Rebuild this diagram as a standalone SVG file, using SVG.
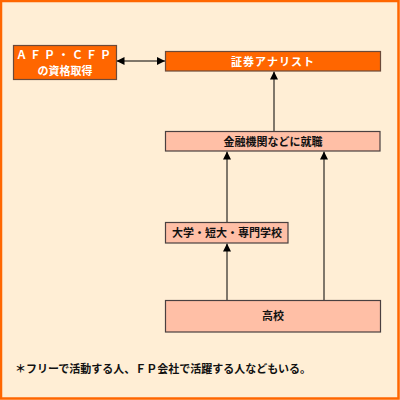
<svg xmlns="http://www.w3.org/2000/svg" width="400" height="400" viewBox="0 0 400 400">
<defs>
<marker id="ah" viewBox="0 0 10 10" refX="10" refY="5" markerWidth="8" markerHeight="8" markerUnits="userSpaceOnUse" orient="auto-start-reverse">
<path d="M0,0 L10,5 L0,10 Z" fill="#000"/>
</marker>
<style>
.dark{fill:#FF6600;stroke:#6b4a3a;stroke-width:1.2}
.light{fill:#FFBFA6;stroke:#4a4040;stroke-width:1.2}
.tw{font-family:"Noto Sans CJK JP","Noto Sans",sans-serif;font-size:11px;font-weight:bold;fill:#fff;text-anchor:middle}
.tb{font-family:"Noto Sans CJK JP","Noto Sans",sans-serif;font-size:11px;font-weight:bold;fill:#111;text-anchor:middle}
.ln{stroke:#000;stroke-width:1;fill:none}
</style>
</defs>
<rect x="0" y="0" width="400" height="400" fill="#FFEED5"/>
<rect x="1" y="1" width="397.5" height="397.5" fill="none" stroke="#FF6600" stroke-width="2.5"/>
<g id="connectors">
<line class="ln" x1="116.5" y1="61" x2="165" y2="61" marker-start="url(#ah)" marker-end="url(#ah)"/>
<line class="ln" x1="274" y1="131" x2="274" y2="71.5" marker-end="url(#ah)"/>
<line class="ln" x1="227" y1="222" x2="227" y2="151.5" marker-end="url(#ah)"/>
<line class="ln" x1="227" y1="300" x2="227" y2="243.5" marker-end="url(#ah)"/>
<line class="ln" x1="324" y1="300" x2="324" y2="151.5" marker-end="url(#ah)"/>
</g>
<g id="afp">
<rect class="dark" x="13.5" y="45.5" width="103" height="34"/>
<text class="tw" x="65" y="59" letter-spacing="3">ＡＦＰ・ＣＦＰ</text>
<text class="tw" x="65" y="75">の資格取得</text>
</g>
<g id="analyst">
<rect class="dark" x="165.5" y="51.5" width="215" height="19.5"/>
<text class="tw" x="273" y="65.5" letter-spacing="1">証券アナリスト</text>
</g>
<g id="kinyu">
<rect class="light" x="165.5" y="131.5" width="214.5" height="19.5"/>
<text class="tb" x="273" y="145.5">金融機関などに就職</text>
</g>
<g id="daigaku">
<rect class="light" x="165.5" y="222.5" width="122.5" height="20.5"/>
<text class="tb" x="227" y="237">大学・短大・専門学校</text>
</g>
<g id="koukou">
<rect class="light" x="165.5" y="300.5" width="215" height="31.5"/>
<text class="tb" x="273" y="320">高校</text>
</g>
<text x="15" y="373" font-family="'Noto Sans CJK JP','Noto Sans',sans-serif" font-size="11" font-weight="bold" fill="#111">＊フリーで活動する人、ＦＰ会社で活躍する人などもいる。</text>
</svg>
